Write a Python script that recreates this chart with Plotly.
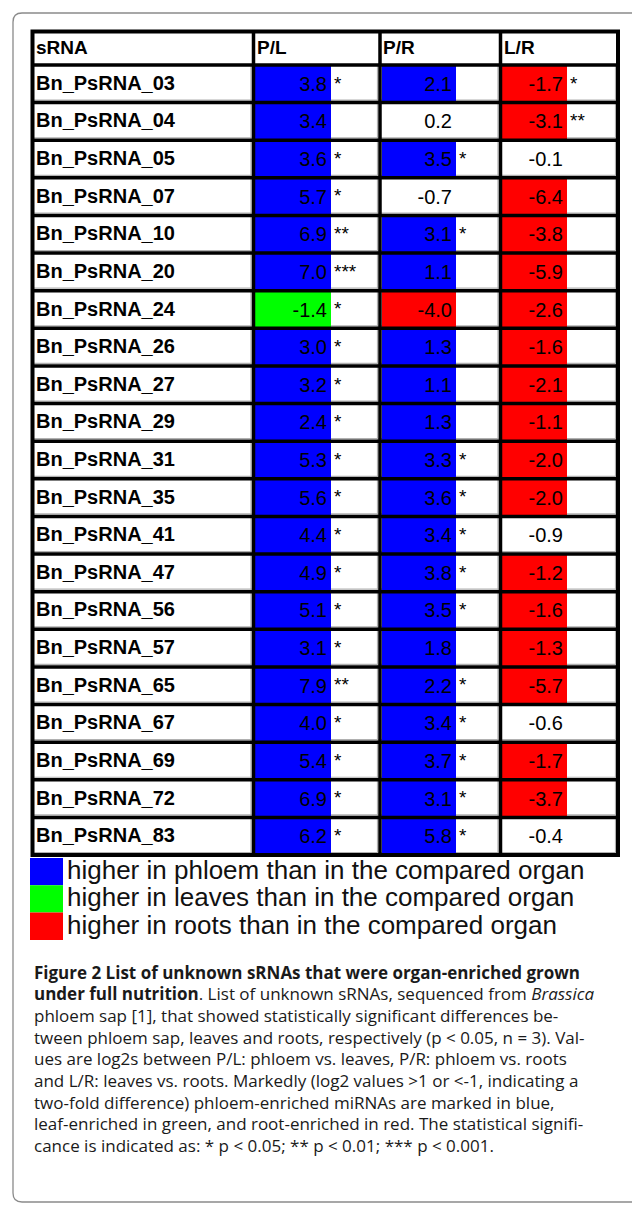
import plotly.graph_objects as go

# ---------------- data ----------------
srna = ["Bn_PsRNA_03", "Bn_PsRNA_04", "Bn_PsRNA_05", "Bn_PsRNA_07", "Bn_PsRNA_10",
        "Bn_PsRNA_20", "Bn_PsRNA_24", "Bn_PsRNA_26", "Bn_PsRNA_27", "Bn_PsRNA_29",
        "Bn_PsRNA_31", "Bn_PsRNA_35", "Bn_PsRNA_41", "Bn_PsRNA_47", "Bn_PsRNA_56",
        "Bn_PsRNA_57", "Bn_PsRNA_65", "Bn_PsRNA_67", "Bn_PsRNA_69", "Bn_PsRNA_72",
        "Bn_PsRNA_83"]
pl_values = [3.8, 3.4, 3.6, 5.7, 6.9, 7.0, -1.4, 3.0, 3.2, 2.4, 5.3, 5.6, 4.4, 4.9, 5.1,
             3.1, 7.9, 4.0, 5.4, 6.9, 6.2]
pl_sig = ["*", "", "*", "*", "**", "***", "*", "*", "*", "*", "*", "*", "*", "*", "*",
          "*", "**", "*", "*", "*", "*"]
pr_values = [2.1, 0.2, 3.5, -0.7, 3.1, 1.1, -4.0, 1.3, 1.1, 1.3, 3.3, 3.6, 3.4, 3.8, 3.5,
             1.8, 2.2, 3.4, 3.7, 3.1, 5.8]
pr_sig = ["", "", "*", "", "*", "", "", "", "", "", "*", "*", "*", "*", "*",
          "", "*", "*", "*", "*", "*"]
lr_values = [-1.7, -3.1, -0.1, -6.4, -3.8, -5.9, -2.6, -1.6, -2.1, -1.1, -2.0, -2.0, -0.9,
             -1.2, -1.6, -1.3, -5.7, -0.6, -1.7, -3.7, -0.4]
lr_sig = ["*", "**", "", "", "", "", "", "", "", "", "", "", "", "", "", "", "", "", "", "", ""]
headers = ["sRNA", "P/L", "P/R", "L/R"]
legend_labels = ["higher in phloem than in the compared organ",
                 "higher in leaves than in the compared organ",
                 "higher in roots than in the compared organ"]
caption_lines = [
    "<b>Figure 2 List of unknown sRNAs that were organ-enriched grown</b>",
    "<b>under full nutrition</b>. List of unknown sRNAs, sequenced from <i>Brassica</i>",
    "phloem sap [1], that showed statistically significant differences be-",
    "tween phloem sap, leaves and roots, respectively (p &lt; 0.05, n = 3). Val-",
    "ues are log2s between P/L: phloem vs. leaves, P/R: phloem vs. roots",
    "and L/R: leaves vs. roots. Markedly (log2 values &gt;1 or &lt;-1, indicating a",
    "two-fold difference) phloem-enriched miRNAs are marked in blue,",
    "leaf-enriched in green, and root-enriched in red. The statistical signifi-",
    "cance is indicated as: * p &lt; 0.05; ** p &lt; 0.01; *** p &lt; 0.001.",
]

# ---------------- styling / layout constants ----------------
W, H = 632, 1209
BLUE, GREEN, RED, WHITE = "#0000ff", "#00ff00", "#ff0000", "rgba(0,0,0,0)"
legend_colors = [BLUE, GREEN, RED]
# (positive colour, negative colour) per comparison column
col_colors = [(BLUE, GREEN), (BLUE, RED), (GREEN, RED)]

T_LEFT, T_RIGHT, T_TOP, T_BOTTOM = 32.5, 618.0, 31.5, 855.0
HEADER_BOTTOM = 65.0
n = len(srna)
pitch = (T_BOTTOM - HEADER_BOTTOM) / n
col_lines = [253.5, 380.0, 500.5]
fill_spans = [(255.0, 331.0), (382.0, 456.0), (502.0, 567.0)]
header_x = [36, 257, 383, 504]

row_c = [HEADER_BOTTOM + (i + 0.5) * pitch for i in range(n)]
FONT = "Liberation Sans, Arial, sans-serif"


def cell_color(v, pos, neg):
    if v > 1:
        return pos
    if v < -1:
        return neg
    return WHITE


fig = go.Figure()

columns = [(pl_values, pl_sig), (pr_values, pr_sig), (lr_values, lr_sig)]
for ci, (vals, sig) in enumerate(columns):
    x0, x1 = fill_spans[ci]
    pos, neg = col_colors[ci]
    fig.add_trace(go.Bar(
        orientation="h", y=row_c, x=[x1 - x0] * n, base=[x0] * n, width=pitch,
        marker=dict(color=[cell_color(v, pos, neg) for v in vals], line=dict(width=0)),
        hoverinfo="skip", showlegend=False))
    fig.add_trace(go.Scatter(
        mode="text", x=[x1 - 4] * n, y=[c + 2 for c in row_c],
        text=[f"{v:.1f}" for v in vals], textposition="middle left",
        textfont=dict(family=FONT, size=20, color="black"),
        hoverinfo="skip", showlegend=False))
    fig.add_trace(go.Scatter(
        mode="text", x=[x1 + 3] * n, y=[c + 1 for c in row_c],
        text=sig, textposition="middle right",
        textfont=dict(family=FONT, size=19, color="black"),
        hoverinfo="skip", showlegend=False))

# row labels
fig.add_trace(go.Scatter(
    mode="text", x=[36] * n, y=[c + 1 for c in row_c], text=[f"<b>{s}</b>" for s in srna],
    textposition="middle right", textfont=dict(family=FONT, size=20, color="black"),
    hoverinfo="skip", showlegend=False))
# header labels
fig.add_trace(go.Scatter(
    mode="text", x=header_x, y=[(T_TOP + HEADER_BOTTOM) / 2 + 1] * 4,
    text=[f"<b>{h}</b>" for h in headers], textposition="middle right",
    textfont=dict(family=FONT, size=19, color="black"),
    hoverinfo="skip", showlegend=False))

# legend squares and labels
leg_top, leg_h = 858.0, 27.3
leg_c = [leg_top + (i + 0.5) * leg_h for i in range(3)]
fig.add_trace(go.Bar(
    orientation="h", y=leg_c, x=[33] * 3, base=[30] * 3, width=leg_h,
    marker=dict(color=legend_colors, line=dict(width=0)),
    hoverinfo="skip", showlegend=False))
fig.add_trace(go.Scatter(
    mode="text", x=[67] * 3, y=[c + 1 for c in leg_c], text=legend_labels,
    textposition="middle right", textfont=dict(family=FONT, size=26, color="#111"),
    hoverinfo="skip", showlegend=False))

shapes = []
# thin grey cell borders (under fills)
for i in range(n):
    yb = HEADER_BOTTOM + (i + 1) * pitch - 2.5
    shapes.append(dict(type="line", x0=T_LEFT, x1=T_RIGHT, y0=yb, y1=yb,
                       line=dict(color="#b0b0b0", width=1.2), layer="below"))
for xl in col_lines + [T_RIGHT]:
    shapes.append(dict(type="line", x0=xl - 2.5, x1=xl - 2.5, y0=HEADER_BOTTOM, y1=T_BOTTOM,
                       line=dict(color="#b0b0b0", width=1.2), layer="below"))
# black grid
for i in range(n):
    yl = HEADER_BOTTOM + i * pitch
    shapes.append(dict(type="line", x0=T_LEFT, x1=T_RIGHT, y0=yl, y1=yl,
                       line=dict(color="black", width=3.5), layer="above"))
for xl in col_lines:
    shapes.append(dict(type="line", x0=xl, x1=xl, y0=T_TOP, y1=T_BOTTOM,
                       line=dict(color="black", width=3.5), layer="above"))
shapes.append(dict(type="rect", x0=T_LEFT, x1=T_RIGHT, y0=T_TOP, y1=T_BOTTOM,
                   line=dict(color="black", width=4), layer="above"))
# rounded figure frame
fx0, fy0, fy1, r = 13, 13, 1202, 9
frame_path = (f"M 650 {fy0} L {fx0 + r} {fy0} Q {fx0} {fy0} {fx0} {fy0 + r} "
              f"L {fx0} {fy1 - r} Q {fx0} {fy1} {fx0 + r} {fy1} L 650 {fy1}")
shapes.append(dict(type="path", path=frame_path, line=dict(color="#8a8a8a", width=1.3),
                   layer="below"))

# caption
cap_top, cap_step = 972.0, 21.7
annotations = []
for i, line in enumerate(caption_lines):
    annotations.append(dict(
        x=32, y=cap_top + i * cap_step, xref="x", yref="y", text=line, showarrow=False,
        xanchor="left", yanchor="middle", align="left",
        font=dict(family="Open Sans, sans-serif", size=17, color="#1a1a1a")))

fig.update_layout(
    width=W, height=H, margin=dict(l=0, r=0, t=0, b=0),
    paper_bgcolor="white", plot_bgcolor="white", barmode="overlay",
    xaxis=dict(range=[0, W], visible=False, fixedrange=True),
    yaxis=dict(range=[H, 0], visible=False, fixedrange=True),
    shapes=shapes, annotations=annotations, showlegend=False,
)

fig.write_html("out.html", config={"displayModeBar": False},
               post_script="document.body.style.margin='0';document.body.style.padding='0';")
